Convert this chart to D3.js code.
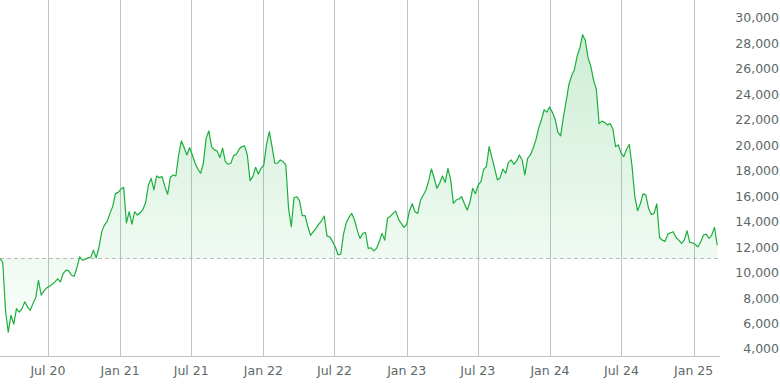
<!DOCTYPE html>
<html>

<head>
    <meta charset="UTF-8">
    <title>Price history</title>
    <script src="https://d3js.org/d3.v7.min.js"></script>
    <style>
        body {
            margin: 0;
            background-color: #fff;
        }
        text {
            font-family: "DejaVu Sans", sans-serif;
            font-size: 12.5px;
            fill: #5d6769;
        }
    </style>
</head>

<body>
    <div id="chart"></div>
    <script>
        // weekly closes, starting first week of March 2020
        var startDate = new Date(2020, 2, 1);
        var values = [
            11110, 10800, 7040, 5330, 6650, 5950, 7170, 6900, 7170, 7700,
            7300, 7040, 7565, 8030, 9400, 8220, 8560, 8800, 8930, 9090,
            9270, 9510, 9270, 9925, 10190, 10140, 9795, 9710, 10400, 11240,
            10976, 11030, 11160, 11190, 11764, 11160, 11970, 13200, 13730, 14020,
            14650, 15180, 16200, 16300, 16560, 16700, 13900, 14780, 13800, 14780,
            14520, 14700, 14960, 15500, 16880, 17400, 16490, 17590, 17460, 17540,
            16750, 16150, 17490, 17670, 17590, 19240, 20340, 19820, 19240, 19820,
            19240, 18590, 18140, 17800, 18590, 20560, 21130, 19900, 19640, 19560,
            19030, 19770, 18720, 18510, 18590, 19190, 19300, 19690, 19900, 19950,
            19240, 17220, 17540, 18270, 17750, 18190, 18460, 20110, 21080, 19900,
            18590, 18590, 18850, 18720, 18460, 15050, 13600, 15900, 15960, 15650,
            14470, 14470, 13640, 12920, 13210, 13470, 13810, 14070, 14440, 12870,
            12810, 12450, 12030, 11400, 11450, 13020, 13920, 14340, 14650, 14130,
            13340, 12680, 13080, 13150, 11900, 11950, 11700, 11900, 12420, 13080,
            12550, 14260, 14410, 14650, 14830, 14200, 13860, 13550, 13780, 14860,
            15410, 14780, 14650, 15680, 16070, 16490, 17200, 18140, 17410, 16620,
            17040, 17590, 17090, 18190, 17280, 15440, 15700, 15780, 15960, 15410,
            14910, 15520, 16620, 16200, 16880, 17150, 18110, 18330, 19900, 19030,
            18190, 17280, 17450, 18140, 17800, 18640, 18850, 18510, 18770, 19240,
            18850, 17670, 18980, 19240, 19770, 20420, 21350, 22000, 22790, 22600,
            23000, 22600, 22050, 21030, 20740, 22190, 23450, 24760, 25460, 25940,
            26990, 27650, 28690, 28220, 26860, 26200, 25100, 24400, 21700, 21900,
            21800, 21600, 21700, 21300, 19900, 20030, 19380, 19110, 19690, 20060,
            18330, 15960, 14860, 15390, 16180, 16100, 15050, 14570, 14650, 15390,
            12760, 12550, 12450, 13020, 13130, 13210, 12760, 12550, 12290, 12550,
            13290, 12370, 12340, 12210, 12030, 12420, 12950, 13020, 12680, 12950,
            13550, 12150
        ];
        var yTicks = [4000, 6000, 8000, 10000, 12000, 14000, 16000, 18000,
            20000, 22000, 24000, 26000, 28000, 30000];

        (function(d3) {

            var width = 780;
            var height = 388;
            var plotRight = 720;
            var plotBottom = 356;
            var lineColor = '#1aaf3c';

            var data = values.map(function(v, i) {
                return { date: d3.timeWeek.offset(startDate, i), value: v };
            });
            var base = values[0];

            var x = d3.scaleTime()
                .domain([startDate, d3.timeWeek.offset(startDate, values.length)])
                .range([0, plotRight]);

            var y = d3.scaleLinear()
                .domain([3450, 31410])
                .range([plotBottom, 0]);

            var svg = d3.select('#chart')
                .append('svg')
                    .attr('width', width)
                    .attr('height', height);

            var grad = svg.append('defs')
                .append('linearGradient')
                    .attr('id', 'fade')
                    .attr('gradientUnits', 'userSpaceOnUse')
                    .attr('x1', 0).attr('x2', 0)
                    .attr('y1', 30).attr('y2', plotBottom);
            grad.append('stop').attr('offset', 0)
                .attr('stop-color', lineColor).attr('stop-opacity', 0.22);
            grad.append('stop').attr('offset', 1)
                .attr('stop-color', lineColor).attr('stop-opacity', 0.0);

            // vertical grid at half-year ticks
            var xTicks = x.ticks(d3.timeMonth.every(6));
            svg.append('g')
                .selectAll('line')
                .data(xTicks)
                .enter()
                .append('line')
                    .attr('x1', function(d) { return Math.round(x(d)) + 0.5; })
                    .attr('x2', function(d) { return Math.round(x(d)) + 0.5; })
                    .attr('y1', 0)
                    .attr('y2', plotBottom)
                    .attr('stroke', '#bcc6c6')
                    .attr('stroke-width', 1);

            svg.append('line')
                .attr('x1', 0).attr('x2', plotRight)
                .attr('y1', plotBottom + 0.5).attr('y2', plotBottom + 0.5)
                .attr('stroke', '#bcc6c6');

            svg.append('g')
                .selectAll('text')
                .data(xTicks)
                .enter()
                .append('text')
                    .attr('x', function(d) { return x(d); })
                    .attr('y', 375)
                    .attr('text-anchor', 'middle')
                    .text(d3.timeFormat('%b %y'));

            svg.append('g')
                .selectAll('text')
                .data(yTicks)
                .enter()
                .append('text')
                    .attr('x', 779)
                    .attr('y', function(d) { return y(d) + 4.5; })
                    .attr('text-anchor', 'end')
                    .text(d3.format(','));

            var area = d3.area()
                .x(function(d) { return x(d.date); })
                .y0(y(base))
                .y1(function(d) { return y(d.value); });

            svg.append('path')
                .datum(data)
                .attr('d', area)
                .attr('fill', 'url(#fade)');

            svg.append('line')
                .attr('x1', 0).attr('x2', plotRight)
                .attr('y1', Math.round(y(base)) + 0.5).attr('y2', Math.round(y(base)) + 0.5)
                .attr('stroke', '#b4bcbc')
                .attr('stroke-dasharray', '4,3');

            var line = d3.line()
                .x(function(d) { return x(d.date); })
                .y(function(d) { return y(d.value); });

            svg.append('path')
                .datum(data)
                .attr('d', line)
                .attr('fill', 'none')
                .attr('stroke', lineColor)
                .attr('stroke-width', 1.2)
                .attr('stroke-linejoin', 'round');

        })(window.d3);
    </script>
</body>

</html>
